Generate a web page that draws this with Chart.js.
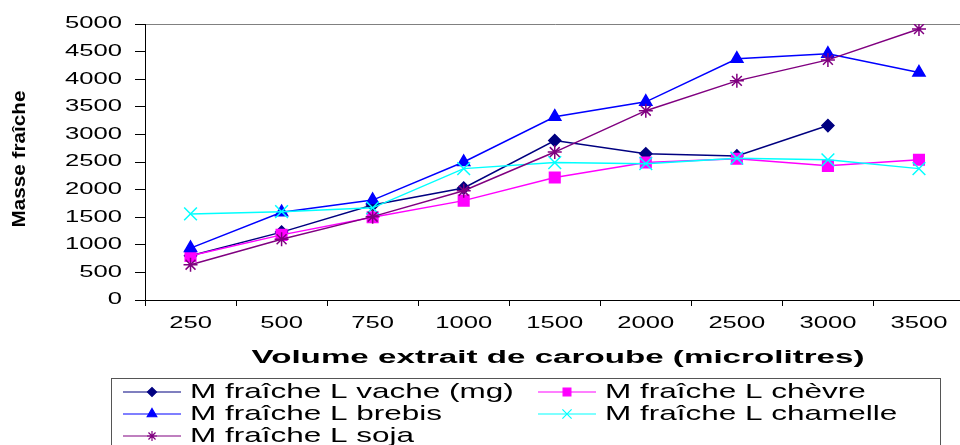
<!DOCTYPE html>
<html lang="fr">
<head>
<meta charset="UTF-8">
<title>Masse fraîche</title>
<script src="https://cdn.jsdelivr.net/npm/chart.js"></script>
<style>
    body {
        margin: 0;
        background: #fff;
        overflow: hidden;
    }
    #wrap {
        width: 975px;
        height: 445px;
    }
</style>
</head>
<body>
<div id="wrap"><canvas id="masseChart" width="975" height="445"></canvas></div>
<script>
    // volumes d'extrait (categories)
    const volumes = ['250', '500', '750', '1000', '1500', '2000', '2500', '3000', '3500'];
    const vache = [800, 1230, 1720, 2030, 2890, 2650, 2610, 3160, null];
    const chevre = [800, 1180, 1500, 1800, 2220, 2490, 2560, 2430, 2540];
    const brebis = [940, 1590, 1810, 2500, 3320, 3590, 4370, 4460, 4120];
    const chamelle = [1560, 1600, 1670, 2380, 2490, 2470, 2570, 2540, 2380];
    const soja = [640, 1100, 1510, 1980, 2680, 3430, 3970, 4350, 4910];
    const yTicks = [0, 500, 1000, 1500, 2000, 2500, 3000, 3500, 4000, 4500, 5000];

    const FONT = "'Liberation Sans', Arial, sans-serif";

    const series = [
        { label: 'M fraîche L vache (mg)', data: vache, color: '#000080', style: 'rectRot', r: 6, lr: 4.5, col: 0, row: 0 },
        { label: 'M fraîche L chèvre', data: chevre, color: '#ff00ff', style: 'rect', r: 7.5, lr: 5.5, col: 1, row: 0 },
        { label: 'M fraîche L brebis', data: brebis, color: '#0000ff', style: 'triangle', r: 7, lr: 5.5, col: 0, row: 1 },
        { label: 'M fraîche L chamelle', data: chamelle, color: '#00ffff', style: 'crossRot', r: 9, lr: 6.5, col: 1, row: 1 },
        { label: 'M fraîche L soja', data: soja, color: '#800080', style: 'star', r: 7, lr: 5, col: 0, row: 2 }
    ];

    function drawStretched(ctx, text, x, y, font, sx, align) {
        ctx.save();
        ctx.font = font;
        ctx.fillStyle = '#000';
        ctx.textBaseline = 'middle';
        ctx.textAlign = align;
        ctx.translate(x, y);
        ctx.scale(sx, 1);
        ctx.fillText(text, 0, 0);
        ctx.restore();
    }

    const textPlugin = {
        id: 'textPlugin',
        beforeDraw(chart) {
            const ctx = chart.ctx;
            ctx.save();
            ctx.fillStyle = '#fff';
            ctx.fillRect(0, 0, chart.width, chart.height);
            ctx.restore();
        },
        afterDraw(chart) {
            const ctx = chart.ctx;
            const xs = chart.scales.x;
            const ys = chart.scales.y;

            // y tick labels
            yTicks.forEach(v => {
                drawStretched(ctx, String(v), 122, ys.getPixelForValue(v), '16px ' + FONT, 1.6, 'right');
            });
            // x tick labels
            volumes.forEach((v, i) => {
                drawStretched(ctx, v, xs.getPixelForValue(i), 324, '16px ' + FONT, 1.6, 'center');
            });

            // x axis title
            const xTitle = 'Volume extrait de caroube (microlitres)';
            ctx.font = 'bold 18px ' + FONT;
            let w = ctx.measureText(xTitle).width;
            drawStretched(ctx, xTitle, 558, 358, 'bold 18px ' + FONT, 613 / w, 'center');

            // y axis title (compressed, as in the original)
            const yTitle = 'Masse fraîche';
            ctx.font = 'bold 18px ' + FONT;
            w = ctx.measureText(yTitle).width;
            ctx.save();
            ctx.translate(20, 159);
            ctx.rotate(-Math.PI / 2);
            drawStretched(ctx, yTitle, 0, 0, 'bold 18px ' + FONT, 137 / w, 'center');
            ctx.restore();

            // legend
            ctx.save();
            ctx.strokeStyle = '#555';
            ctx.lineWidth = 1;
            ctx.strokeRect(111.5, 378.5, 829, 120);
            const cols = [{ x1: 123, x2: 181, tx: 190 }, { x1: 538, x2: 596, tx: 605 }];
            const rows = [392, 414, 436];
            series.forEach(s => {
                const c = cols[s.col];
                const y = rows[s.row];
                ctx.strokeStyle = s.color;
                ctx.fillStyle = s.color;
                ctx.lineWidth = 1.2;
                ctx.beginPath();
                ctx.moveTo(c.x1, y);
                ctx.lineTo(c.x2, y);
                ctx.stroke();
                Chart.helpers.drawPoint(ctx, { pointStyle: s.style, rotation: 0, radius: s.lr, borderWidth: 1.2 }, (c.x1 + c.x2) / 2, y);
                drawStretched(ctx, s.label, c.tx, y, '21px ' + FONT, 1.5, 'left');
            });
            ctx.restore();
        }
    };

    const datasets = series.map((s, i) => ({
        label: s.label,
        data: s.data,
        borderColor: s.color,
        backgroundColor: s.color,
        borderWidth: 1.5,
        pointStyle: s.style,
        pointRadius: s.r,
        pointBorderWidth: 1.5,
        pointBackgroundColor: s.color,
        pointBorderColor: s.color,
        tension: 0,
        spanGaps: false,
        order: series.length - 1 - i
    }));

    new Chart(document.getElementById('masseChart'), {
        type: 'line',
        data: { labels: volumes, datasets: datasets },
        options: {
            responsive: false,
            animation: false,
            devicePixelRatio: 1,
            layout: { padding: { left: 135, top: 24, right: 2, bottom: 139 } },
            scales: {
                x: {
                    offset: true,
                    grid: { offset: true, color: 'transparent', tickColor: '#000', tickLength: 6 },
                    border: { color: '#000', width: 1 },
                    ticks: { display: false },
                    afterFit: s => { s.height = 6; }
                },
                y: {
                    min: 0,
                    max: 5000,
                    ticks: { display: false, stepSize: 500 },
                    grid: {
                        color: c => (c.tick && c.tick.value === 5000) ? '#808080' : 'transparent',
                        tickColor: '#000',
                        tickLength: 10
                    },
                    border: { color: '#000', width: 1 },
                    afterFit: s => { s.width = 10; }
                }
            },
            plugins: {
                legend: { display: false },
                tooltip: { enabled: false }
            }
        },
        plugins: [textPlugin]
    });
</script>
</body>
</html>
